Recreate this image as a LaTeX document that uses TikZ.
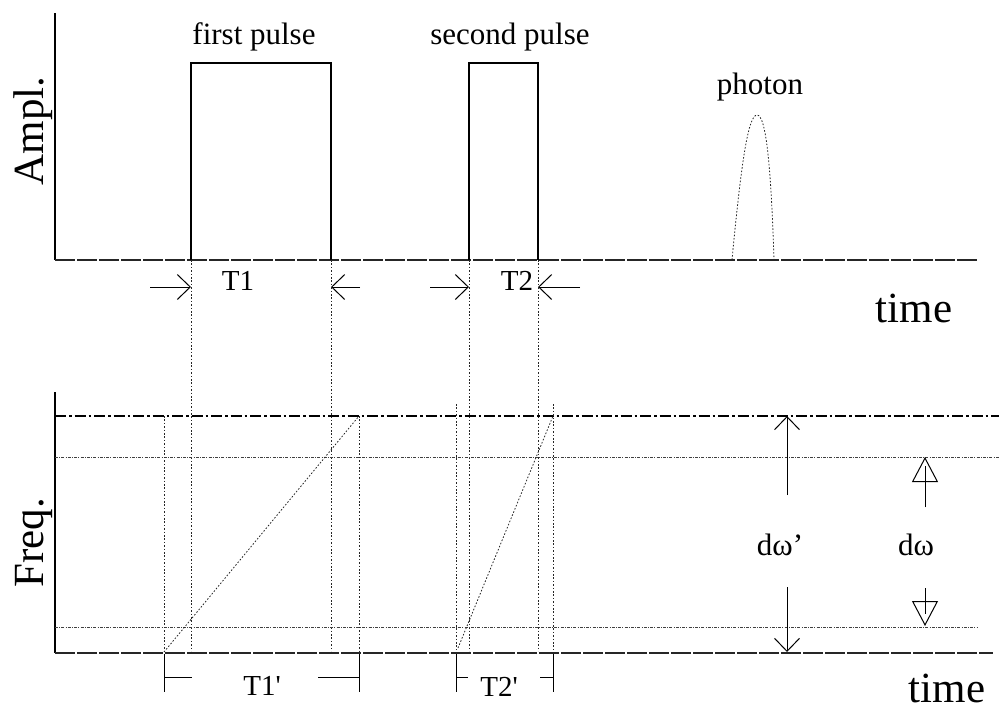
\documentclass[tikz,border=0pt]{standalone}
\usepackage{fontspec}
\setmainfont{Liberation Serif}
\usetikzlibrary{arrows.meta}
\begin{document}
\begin{tikzpicture}[x=1pt,y=-1pt,
  axis/.style={line width=1.1pt},
  baseln/.style={line width=1.1pt, black!85, dash pattern=on 20pt off 2pt},
  vdots/.style={line width=0.8pt, dash pattern=on 1.6pt off 1.8pt, black!85},
  hdots/.style={line width=0.7pt, dash pattern=on 3pt off 1.2pt on 1pt off 1.2pt, black!75},
  dashdotln/.style={line width=1.6pt, dash pattern=on 11pt off 3pt on 2.5pt off 3pt},
  barb/.style={-{Straight Barb[length=13pt,width=25pt,line width=1pt]}, line width=1pt},
  tri/.style={-{Triangle[open,length=25pt,width=26pt,line width=1pt]}, line width=1pt},
  lbl/.style={font=\fontsize{31}{35}\selectfont, inner sep=0pt, anchor=base},
  tlbl/.style={font=\fontsize{29}{33}\selectfont, inner sep=0pt, anchor=base},
  big/.style={font=\fontsize{43}{47}\selectfont, inner sep=0pt, anchor=base},
]
\useasboundingbox (0,0) rectangle (999,713);

% ---------- labels ----------
\node[lbl] (fp) at (254,44) {first pulse};
\node[lbl] (sp) at (510,44) {second pulse};
\node[lbl] (ph) at (760,94) {photon};
\node[tlbl] (t1) at (238,290) {T1};
\node[tlbl] (t2) at (517,290) {T2};
\node[big] (time1) at (914,322) {time};
\node[big] (time2) at (947,702) {time};
\node[big, rotate=90] (ampl) at (43,131) {Ampl.};
\node[big, rotate=90] (freq) at (43,543) {Freq.};
\node[tlbl] (t1p) at (262,695) {T1\textquotesingle};
\node[tlbl] (t2p) at (499,696) {T2\textquotesingle};
\node[lbl] (dwp) at (780,555) {dω’};
\node[lbl] (dw) at (916,555) {dω};

% ---------- top panel ----------
\coordinate (ya1) at (55,13);
\coordinate (o1) at (55,260);
\coordinate (xe1) at (978,260);
\draw[axis] (ya1) -- (o1);
\draw[baseln] (o1) -- (xe1);
\draw[axis] (191,260) -- (191,63) -- (331,63) -- (331,260);
\draw[axis] (469,260) -- (469,63) -- (538,63) -- (538,260);
\draw[vdots] (732,260) .. controls (741,165) and (748,115) .. (757,115)
             .. controls (766,115) and (771,165) .. (774,260);

% pulse width arrows
\coordinate (a1s) at (150,287); \coordinate (a1e) at (191,287);
\coordinate (b1s) at (360,287); \coordinate (b1e) at (331,287);
\coordinate (a2s) at (430,287); \coordinate (a2e) at (469,287);
\coordinate (b2s) at (580,287); \coordinate (b2e) at (538,287);
\draw[barb] (a1s) -- (a1e);
\draw[barb] (b1s) -- (b1e);
\draw[barb] (a2s) -- (a2e);
\draw[barb] (b2s) -- (b2e);

% projections down
\draw[vdots] (191,260) -- (191,651);
\draw[vdots] (331,260) -- (331,651);
\draw[vdots] (469,260) -- (469,651);
\draw[vdots] (538,260) -- (538,651);

% ---------- bottom panel ----------
\coordinate (ya2) at (55,392);
\coordinate (o2) at (55,653);
\coordinate (xe2) at (993,653);
\draw[axis] (ya2) -- (o2);
\draw[baseln] (o2) -- (xe2);
\draw[dashdotln] (55,416) -- (999,416);
\draw[hdots] (55,457) -- (999,457);
\draw[hdots] (55,627) -- (978,627);

% chirp ramps
\draw[vdots] (164,652) -- (359,416);
\draw[vdots] (458,648) -- (553,416);

% chirped pulse extents
\draw[vdots] (164,416) -- (164,653);
\draw[vdots] (359,416) -- (359,653);
\draw[vdots] (456,404) -- (456,653);
\draw[vdots] (553,404) -- (553,653);

% T1' bracket
\draw[line width=1pt] (164,654) -- (164,692);
\draw[line width=1pt] (359,654) -- (359,692);
\draw[line width=1pt] (164,677) -- (192,677);
\draw[line width=1pt] (318,677) -- (359,677);
% T2' bracket
\draw[line width=1pt] (456,654) -- (456,692);
\draw[line width=1pt] (553,654) -- (553,692);
\draw[line width=1pt] (456,677) -- (468,677);
\draw[line width=1pt] (540,677) -- (553,677);

% d omega' arrows
\coordinate (dpu0) at (787,495); \coordinate (dpu1) at (787,416);
\coordinate (dpd0) at (787,587); \coordinate (dpd1) at (787,652);
\draw[barb] (dpu0) -- (dpu1);
\draw[barb] (dpd0) -- (dpd1);

% d omega arrows
\coordinate (du0) at (925,507); \coordinate (du1) at (925,457);
\coordinate (dd0) at (925,588); \coordinate (dd1) at (925,626);
\draw[tri] (du0) -- (du1);
\draw[line width=1pt] (du0) -- (925,466);
\draw[tri] (dd0) -- (dd1);
\draw[line width=1pt] (dd0) -- (925,614);
\end{tikzpicture}
\end{document}
